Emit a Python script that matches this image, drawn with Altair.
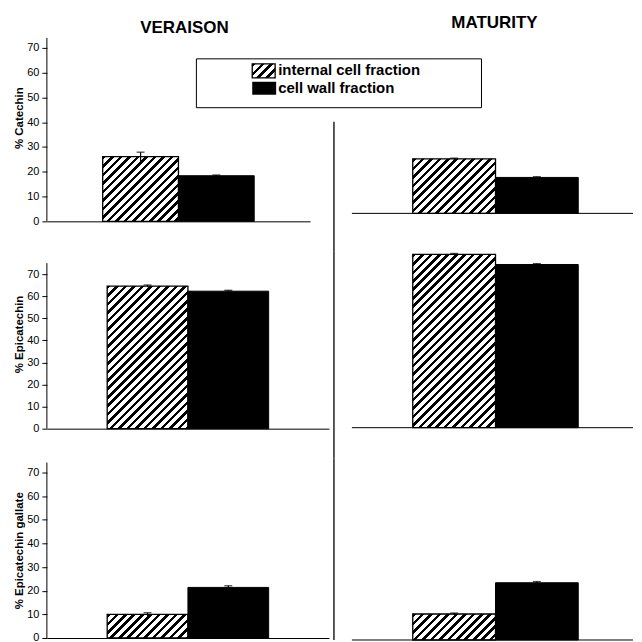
import math
import altair as alt
import pandas as pd

# ---------------- data ----------------
fractions = ["internal cell fraction", "cell wall fraction"]
stages = ["VERAISON", "MATURITY"]
compounds = ["% Catechin", "% Epicatechin", "% Epicatechin gallate"]
y_ticks = [0, 10, 20, 30, 40, 50, 60, 70]

veraison_internal = [26.1, 64.6, 10.0]
veraison_wall = [18.4, 62.3, 21.4]
veraison_internal_err = [1.8, 0.5, 0.7]
veraison_wall_err = [0.3, 0.4, 0.7]

maturity_internal = [22.0, 78.5, 11.0]
maturity_wall = [14.5, 73.9, 24.2]
maturity_internal_err = [0.3, 0.4, 0.4]
maturity_wall_err = [0.3, 0.4, 0.5]

# ---------------- layout / style ----------------
FONT = "Liberation Sans"
left_w = [264, 283, 283]
left_h = [184, 178, 180]
left_ymax = [74.0, 80.4, 75.9]
left_axis_top = [74.0, 75.0, 74.2]
left_pad_outer = [0.737, 0.747, 0.747]
left_title_y = [80, 83, 92]

right_w = 300
right_h = [176, 177, 182]
right_ymax = [70.8, 79.9, 76.7]
right_pad_outer = 0.807
right_align = 0.59
right_line = [(84, 214), (0, 208), (0, 182)]

title_pos = [(138, -4.5), (161, -10)]


def hatch(w, h, period=8.5, frac=0.42):
    L = w + h
    stops = []
    n = int(math.ceil(L / period))
    for i in range(n):
        a = min(i * period / L, 1)
        b = min((i + frac) * period / L, 1)
        c = min((i + 1) * period / L, 1)
        stops += [
            {"offset": a, "color": "black"},
            {"offset": b, "color": "black"},
            {"offset": b, "color": "white"},
            {"offset": c, "color": "white"},
        ]
    k = L / (w * w + h * h)
    return {"gradient": "linear", "x1": 0, "y1": 0, "x2": k * w, "y2": k * h, "stops": stops}


def panel(stage, row):
    if stage == 0:
        vals = [veraison_internal[row], veraison_wall[row]]
        errs = [veraison_internal_err[row], veraison_wall_err[row]]
        width, height, ymax = left_w[row], left_h[row], left_ymax[row]
        po, al = left_pad_outer[row], 0.5
    else:
        vals = [maturity_internal[row], maturity_wall[row]]
        errs = [maturity_internal_err[row], maturity_wall_err[row]]
        width, height, ymax = right_w, right_h[row], right_ymax[row]
        po, al = right_pad_outer, right_align

    df = pd.DataFrame({
        "fraction": fractions,
        "value": vals,
        "lo": [v - e for v, e in zip(vals, errs)],
        "hi": [v + e for v, e in zip(vals, errs)],
    })
    step = width / (2 + 2 * po)
    ppu = height / ymax

    if stage == 0:
        xaxis = alt.Axis(labels=False, ticks=False, title=None, domain=True,
                         domainColor="black", domainWidth=1, grid=False)
        yaxis = alt.Axis(values=y_ticks, tickCount=8, labelOverlap=False,
                         title=compounds[row], titleFont=FONT,
                         titleFontSize=11.5, titleFontWeight="bold", titleColor="black",
                         titlePadding=2, titleY=left_title_y[row],
                         labelFont=FONT, labelFontSize=11, labelColor="black",
                         labelPadding=3, tickColor="black", tickSize=5,
                         domain=False, grid=False)
    else:
        xaxis = None
        yaxis = None

    x = alt.X("fraction:N", sort=fractions,
              scale=alt.Scale(domain=fractions, paddingInner=0, paddingOuter=po, align=al),
              axis=xaxis)
    y = alt.Y("value:Q", scale=alt.Scale(domain=[0, ymax], nice=False), axis=yaxis)

    base = alt.Chart(df)
    hatched = base.transform_filter(alt.datum.fraction == fractions[0]).mark_bar(
        fill=hatch(step, vals[0] * ppu), stroke="black", strokeWidth=1.3
    ).encode(x=x, y=y)
    solid = base.transform_filter(alt.datum.fraction == fractions[1]).mark_bar(
        fill="black", stroke="black", strokeWidth=1
    ).encode(x=x, y=y)
    err = base.mark_rule(color="black", strokeWidth=1.2).encode(
        x=x, y=alt.Y("lo:Q"), y2="hi:Q")
    cap = base.mark_tick(color="black", size=8, thickness=1.3).encode(x=x, y=alt.Y("hi:Q"))

    layers = [hatched, solid, err, cap]
    one = alt.Data(values=[{"k": 1}])
    if stage == 0:
        axis_line = alt.Chart(one).mark_rule(color="black", strokeWidth=1).encode(
            x=alt.value(0), y=alt.datum(0), y2=alt.datum(left_axis_top[row]))
        layers.append(axis_line)
    else:
        t, b = right_line[row]
        vline = alt.Chart(one).mark_rule(color="black", strokeWidth=1.3).encode(
            x=alt.value(0), y=alt.value(t), y2=alt.value(b))
        baseline = alt.Chart(one).mark_rule(color="black", strokeWidth=1).encode(
            x=alt.value(18), x2=alt.value(width), y=alt.datum(0))
        layers += [vline, baseline]

    if row == 0:
        tx, ty = title_pos[stage]
        title = alt.Chart(one).mark_text(text=stages[stage], font=FONT, fontSize=17,
                                         fontWeight="bold", align="center",
                                         baseline="alphabetic", color="black").encode(
            x=alt.value(tx), y=alt.value(ty))
        layers.append(title)

    if stage == 0 and row == 0:
        box = alt.Chart(one).mark_rect(fill="white", stroke="black", strokeWidth=1).encode(
            x=alt.value(150), x2=alt.value(436), y=alt.value(21), y2=alt.value(70))
        p1 = alt.Chart(one).mark_rect(fill=hatch(23, 14, period=9), stroke="black",
                                      strokeWidth=1.3).encode(
            x=alt.value(206), x2=alt.value(229), y=alt.value(26), y2=alt.value(40))
        p2 = alt.Chart(one).mark_rect(fill="black").encode(
            x=alt.value(206), x2=alt.value(230), y=alt.value(44), y2=alt.value(57))
        t1 = alt.Chart(one).mark_text(text=fractions[0], font=FONT, fontSize=15,
                                      fontWeight="bold", align="left",
                                      baseline="alphabetic", color="black").encode(
            x=alt.value(232), y=alt.value(37.5))
        t2 = alt.Chart(one).mark_text(text=fractions[1], font=FONT, fontSize=15,
                                      fontWeight="bold", align="left",
                                      baseline="alphabetic", color="black").encode(
            x=alt.value(232), y=alt.value(55.5))
        layers += [box, p1, p2, t1, t2]

    return alt.layer(*layers).properties(width=width, height=height)


cells = []
for row in range(3):
    for stage in range(2):
        cells.append(panel(stage, row))

chart = alt.concat(*cells, columns=2, spacing={"row": 30, "column": 5},
                   bounds="flush", align="each").properties(
    padding={"left": 5, "top": 5, "right": 0, "bottom": 0},
    background="white",
).configure_view(strokeWidth=0)

chart.save("out.html", embed_options={"renderer": "svg", "actions": False})
